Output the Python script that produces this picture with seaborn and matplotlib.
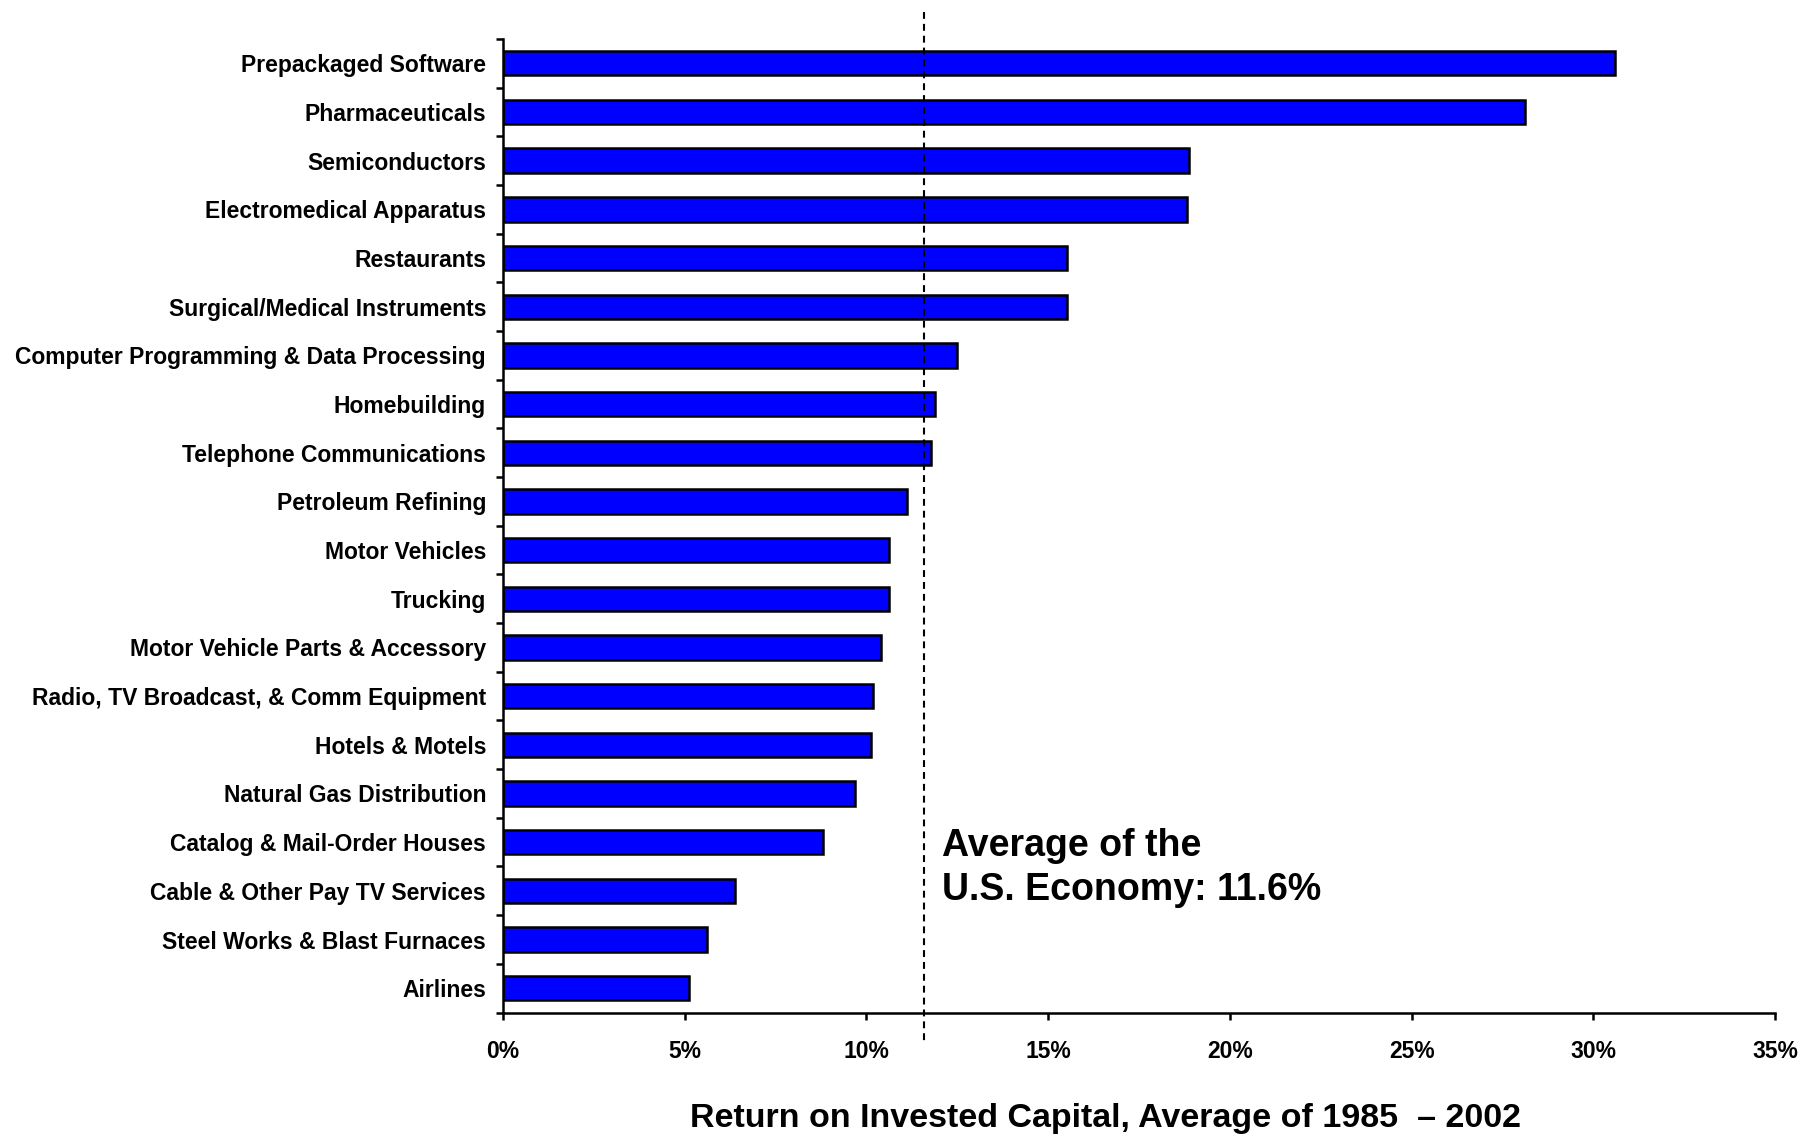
import matplotlib
matplotlib.use("Agg")
import matplotlib.pyplot as plt
from matplotlib.ticker import FixedLocator, FuncFormatter
import seaborn as sns
import pandas as pd

industries = [
    "Prepackaged Software",
    "Pharmaceuticals",
    "Semiconductors",
    "Electromedical Apparatus",
    "Restaurants",
    "Surgical/Medical Instruments",
    "Computer Programming & Data Processing",
    "Homebuilding",
    "Telephone Communications",
    "Petroleum Refining",
    "Motor Vehicles",
    "Trucking",
    "Motor Vehicle Parts & Accessory",
    "Radio, TV Broadcast, & Comm Equipment",
    "Hotels & Motels",
    "Natural Gas Distribution",
    "Catalog & Mail-Order Houses",
    "Cable & Other Pay TV Services",
    "Steel Works & Blast Furnaces",
    "Airlines",
]
roic = [30.6, 28.13, 18.87, 18.81, 15.51, 15.51, 12.5, 11.89, 11.78, 11.13,
        10.62, 10.63, 10.40, 10.18, 10.13, 9.68, 8.81, 6.40, 5.62, 5.12]
economy_avg = 11.6
x_ticks = [0, 5, 10, 15, 20, 25, 30, 35]

df = pd.DataFrame({"industry": industries, "roic": roic})

sns.set_style("white")
plt.rcParams["font.family"] = ["Liberation Sans", "DejaVu Sans"]
plt.rcParams["font.weight"] = "bold"

fig = plt.figure(figsize=(18.04, 11.36), dpi=100)
ax = fig.add_axes([0.2787, 0.1087, 0.984 - 0.2787, 0.9657 - 0.1087])

sns.barplot(data=df, x="roic", y="industry", orient="h", color="#0000FF",
            saturation=1, width=0.5, edgecolor="black", linewidth=1.8, ax=ax)

ax.set_xlim(0, 35)
ax.set_ylim(len(industries) - 0.5, -0.5)

# category separators as outward minor ticks on the y axis
ax.yaxis.set_minor_locator(FixedLocator([i - 0.5 for i in range(len(industries) + 1)]))
ax.tick_params(axis="y", which="major", length=0, pad=12, labelsize=16.5)
ax.tick_params(axis="y", which="minor", length=5, width=1.8, color="black", direction="out", left=True)
ax.set_xticks(x_ticks)
ax.xaxis.set_major_formatter(FuncFormatter(lambda v, p: f"{v:.0f}%"))
ax.tick_params(axis="x", which="major", length=5, width=1.8, color="black",
               direction="out", bottom=True, pad=15, labelsize=16.5)
for lbl in ax.get_xticklabels() + ax.get_yticklabels():
    lbl.set_fontweight("bold")
    lbl.set_color("black")

for side in ["top", "right"]:
    ax.spines[side].set_visible(False)
for side in ["left", "bottom"]:
    ax.spines[side].set_linewidth(1.8)
    ax.spines[side].set_color("black")

ax.set_xlabel("")
ax.set_ylabel("")

# economy-wide average as a dashed reference line running past the axes
ref, = ax.plot([economy_avg, economy_avg], [-1.05, len(industries) - 0.5 + 0.59],
               color="black", lw=1.5, clip_on=False, zorder=5)
ref.set_dashes((3.3, 2.4))

fig.text(0.522, 0.271, f"Average of the\nU.S. Economy: {economy_avg}%",
         fontsize=27, fontweight="bold", ha="left", va="top", linespacing=1.27,
         color="black")

fig.text(0.613, 0.0158, "Return on Invested Capital, Average of 1985  \u2013 2002",
         fontsize=24.5, fontweight="bold", ha="center", va="center", color="black")

fig.savefig("out.png", dpi=100)
